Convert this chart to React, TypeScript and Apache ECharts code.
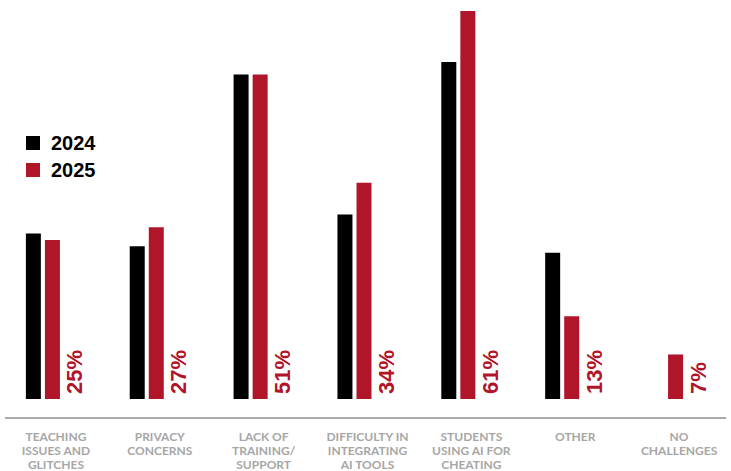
import React, { useEffect, useRef } from "react";
import * as echarts from "echarts";

const categories = [
  "TEACHING\nISSUES AND\nGLITCHES",
  "PRIVACY\nCONCERNS",
  "LACK OF\nTRAINING/\nSUPPORT",
  "DIFFICULTY IN\nINTEGRATING\nAI TOOLS",
  "STUDENTS\nUSING AI FOR\nCHEATING",
  "OTHER",
  "NO\nCHALLENGES",
];
const values2024: (number | null)[] = [26, 24, 51, 29, 53, 23, null];
const values2025: number[] = [25, 27, 51, 34, 61, 13, 7];

const RED = "#b0152a";

export default function App() {
  const ref = useRef<HTMLDivElement>(null);
  useEffect(() => {
    document.body.style.margin = "0";
    const chart = echarts.init(ref.current!, null, { renderer: "svg" });
    chart.setOption({
      animation: false,
      backgroundColor: "#ffffff",
      legend: {
        data: ["2024", "2025"],
        orient: "vertical",
        left: 26,
        top: 133,
        padding: 0,
        icon: "rect",
        itemWidth: 14,
        itemHeight: 14,
        itemGap: 7,
        selectedMode: false,
        textStyle: {
          fontFamily: "Liberation Sans, Arial, sans-serif",
          fontWeight: "bold",
          fontSize: 20,
          lineHeight: 20,
          color: "#000",
          padding: [0, 0, 0, 6],
        },
      },
      grid: { left: 4, width: 737, top: 11, bottom: 71, containLabel: false },
      xAxis: {
        type: "category",
        data: categories,
        axisLine: { show: false },
        axisTick: { show: false },
        axisLabel: {
          interval: 0,
          margin: 30,
          color: "#a6a6a6",
          fontFamily: "Lato, Liberation Sans, sans-serif",
          fontWeight: "bold",
          fontSize: 12,
          lineHeight: 14,
          align: "center",
        },
      },
      yAxis: {
        type: "value",
        min: 0,
        max: 61,
        show: false,
        splitLine: { show: false },
      },
      series: [
        {
          name: "2024",
          type: "bar",
          data: values2024,
          barWidth: 15,
          barGap: "27%",
          itemStyle: { color: "#000000" },
        },
        {
          name: "2025",
          type: "bar",
          data: values2025,
          barWidth: 15,
          barGap: "27%",
          itemStyle: { color: RED },
        },
        {
          name: "labels",
          type: "bar",
          data: values2025,
          barWidth: 22,
          barGap: "27%",
          itemStyle: { color: "rgba(0,0,0,0)" },
          label: {
            show: true,
            position: "insideBottom",
            distance: 5,
            rotate: 90,
            align: "left",
            verticalAlign: "middle",
            formatter: "{c}%",
            color: RED,
            fontFamily: "Liberation Sans, Arial, sans-serif",
            fontWeight: "bold",
            fontSize: 22,
          },
        },
      ],
      graphic: [
        {
          type: "line",
          shape: { x1: 5, y1: 418, x2: 726, y2: 418 },
          style: { stroke: "#aaaaaa", lineWidth: 2 },
        },
      ],
    });
    return () => chart.dispose();
  }, []);
  return <div ref={ref} style={{ width: 731, height: 471 }} />;
}
